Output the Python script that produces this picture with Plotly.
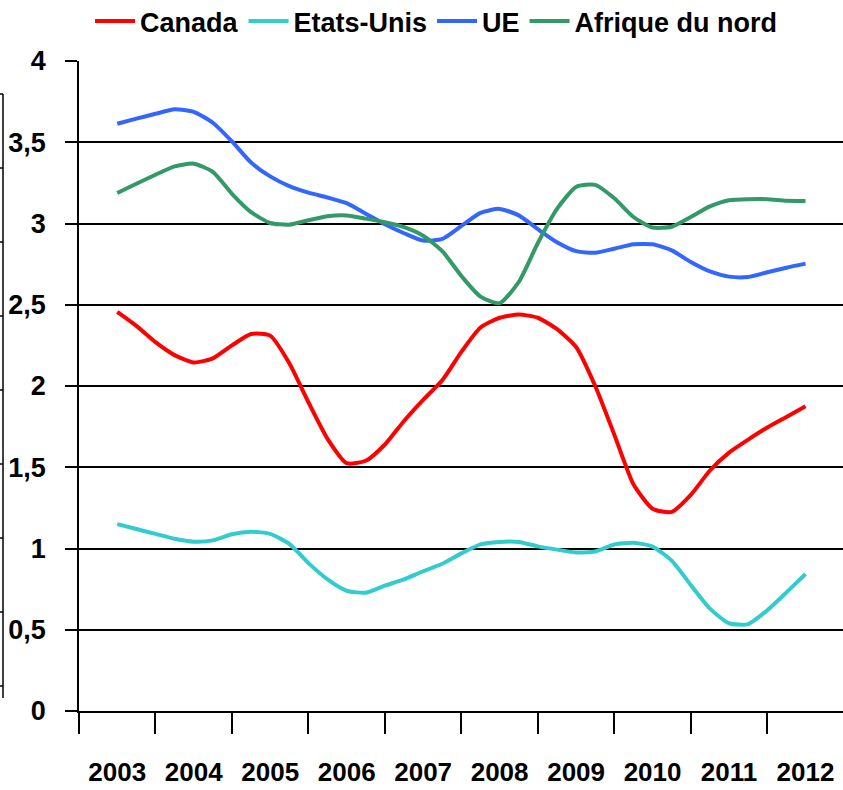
import plotly.graph_objects as go

# Quarterly sampling grid (2003 .. 2012)
periods = [2003 + q / 4 for q in range(37)]

canada = [2.456, 2.37, 2.27, 2.19, 2.145, 2.17, 2.25, 2.32, 2.31, 2.14,
          1.90, 1.675, 1.525, 1.54, 1.64, 1.785, 1.915, 2.035, 2.21, 2.36,
          2.42, 2.44, 2.42, 2.35, 2.24, 2.00, 1.70, 1.395, 1.245, 1.225,
          1.33, 1.48, 1.59, 1.67, 1.745, 1.81, 1.875]

etats_unis = [1.150, 1.12, 1.09, 1.06, 1.042, 1.05, 1.088, 1.103, 1.09, 1.028,
              0.91, 0.81, 0.74, 0.728, 0.772, 0.81, 0.86, 0.906, 0.97, 1.025,
              1.04, 1.04, 1.013, 0.993, 0.976, 0.982, 1.025, 1.035, 1.012, 0.925,
              0.775, 0.63, 0.54, 0.535, 0.62, 0.73, 0.843]

ue = [3.614, 3.645, 3.675, 3.703, 3.687, 3.62, 3.505, 3.375, 3.29, 3.23,
      3.19, 3.16, 3.125, 3.06, 2.995, 2.94, 2.895, 2.905, 2.985, 3.065,
      3.09, 3.05, 2.965, 2.885, 2.83, 2.82, 2.845, 2.872, 2.872, 2.835,
      2.763, 2.705, 2.673, 2.671, 2.70, 2.728, 2.753]

afrique_nord = [3.188, 3.245, 3.30, 3.352, 3.368, 3.318, 3.183, 3.07, 3.003, 2.993,
                3.02, 3.045, 3.05, 3.03, 3.008, 2.978, 2.925, 2.83, 2.677, 2.55,
                2.51, 2.64, 2.88, 3.09, 3.225, 3.238, 3.155, 3.04, 2.975, 2.98,
                3.04, 3.105, 3.143, 3.15, 3.15, 3.14, 3.139]

years = [2003, 2004, 2005, 2006, 2007, 2008, 2009, 2010, 2011, 2012]
year_labels = ["2003", "2004", "2005", "2006", "2007", "2008", "2009", "2010", "2011", "2012"]
y_ticks = [0, 0.5, 1, 1.5, 2, 2.5, 3, 3.5, 4]
y_tick_labels = ["0", "0,5", "1", "1,5", "2", "2,5", "3", "3,5", "4"]

series = [
    ("Canada", canada, "#FF0000"),
    ("Etats-Unis", etats_unis, "#33CCCC"),
    ("UE", ue, "#3366FF"),
    ("Afrique du nord", afrique_nord, "#339966"),
]

FONT = "Liberation Sans, Arial, sans-serif"

fig = go.Figure()
for name, vals, color in series:
    fig.add_trace(go.Scatter(
        x=periods, y=vals, name=name, mode="lines",
        line=dict(color=color, width=4, shape="spline", smoothing=0.6),
    ))

W, H = 843, 790
L, R, T, B = 79, 0, 61, 79
PW, PH = W - L - R, H - T - B

def px_x(px):
    return (px - L) / PW

def px_y(py):
    return (H - B - py) / PH

# Remnant axis at far left of the picture
shapes = [dict(type="line", xref="paper", yref="paper",
               x0=px_x(3), x1=px_x(3), y0=px_y(94), y1=px_y(698),
               line=dict(color="black", width=1.5))]
for i in range(9):
    py = 94 + 74 * i
    shapes.append(dict(type="line", xref="paper", yref="paper",
                       x0=px_x(0), x1=px_x(3), y0=px_y(py), y1=px_y(py),
                       line=dict(color="black", width=1.5)))

fig.update_layout(
    width=W, height=H,
    margin=dict(l=L, r=R, t=T, b=B, pad=0, autoexpand=False),
    plot_bgcolor="white", paper_bgcolor="white",
    font=dict(family=FONT, size=26, color="black", weight="bold"),
    showlegend=True,
    legend=dict(orientation="h", x=px_x(90), xanchor="left",
                y=px_y(-3), yanchor="top",
                font=dict(family=FONT, size=27, color="black", weight="bold"),
                itemwidth=40, bgcolor="rgba(0,0,0,0)", tracegroupgap=0),
    shapes=shapes,
    xaxis=dict(
        range=[2002.5, 2012.49], automargin=False,
        tickmode="array", tickvals=years, ticktext=year_labels,
        ticks="", showgrid=False, zeroline=False,
        showline=True, linecolor="black", linewidth=2,
        ticklabelstandoff=37,
        tickfont=dict(family=FONT, size=26, color="black", weight="bold"),
        minor=dict(tickmode="array",
                   tickvals=[y - 0.5 for y in years] + [2012.5],
                   ticks="outside", ticklen=21, tickwidth=1.5,
                   tickcolor="black", showgrid=False),
    ),
    yaxis=dict(
        range=[0, 4], automargin=False,
        tickmode="array", tickvals=y_ticks, ticktext=y_tick_labels,
        ticks="outside", ticklen=12, tickwidth=1.5, tickcolor="black",
        showgrid=True, gridcolor="black", gridwidth=1.5,
        zeroline=False, showline=True, linecolor="black", linewidth=1.5,
        ticklabelstandoff=14,
        tickfont=dict(family=FONT, size=27, color="black", weight="bold"),
    ),
)

fig.write_html("out.html",
               config={"displayModeBar": False},
               post_script="document.body.style.margin='0';document.body.style.overflow='hidden';")
